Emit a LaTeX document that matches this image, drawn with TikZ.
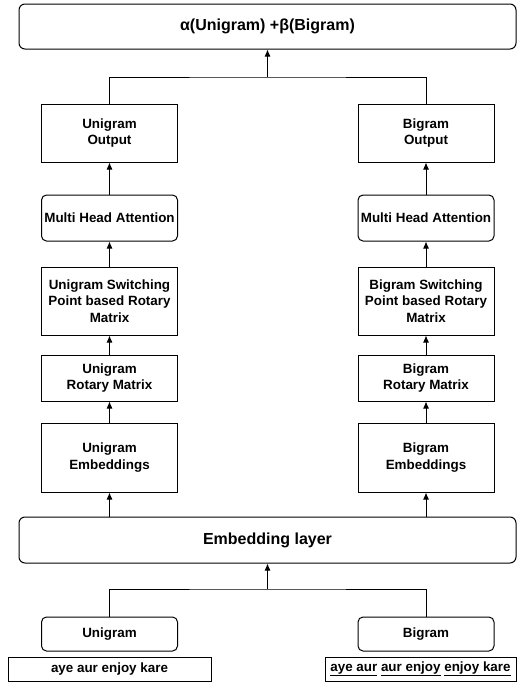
\documentclass[tikz,border=0pt]{standalone}
\usepackage{fontspec}
\setmainfont{Liberation Sans}
\usetikzlibrary{arrows.meta,positioning}

\begin{document}
\begin{tikzpicture}[x=1pt, y=-1pt, line width=1pt,
    box/.style = {draw, minimum width=136pt, inner xsep=1pt, inner ysep=0pt, align=center, font=\bfseries\fontsize{13.4}{16.6}\selectfont},
    rbox/.style = {box, rounded corners=5pt},
    wide/.style = {draw, rounded corners=6pt, minimum width=497pt, minimum height=45pt, font=\bfseries\fontsize{16}{19}\selectfont},
    word/.style = {draw, minimum height=24pt, inner xsep=2pt, inner ysep=0pt, font=\bfseries\fontsize{13.4}{16}\selectfont},
    arr/.style = {-{Latex[length=7pt,width=6pt]}}]
    \useasboundingbox (0,0) rectangle (526,683);

    % top and shared layer
    \node[wide] (mix) at (267.5,26.5) {α(Unigram) +β(Bigram)};
    \node[wide, minimum height=46pt] (emb) at (267.5,540) {Embedding layer};

    % unigram side
    \node[box, minimum height=58pt] (uout) at (109.5,133) {Unigram\\Output};
    \node[rbox, minimum height=46pt] (umha) at (109.5,218) {Multi Head Attention};
    \node[box, minimum height=68pt] (usw) at (109.5,301) {Unigram Switching\\Point based Rotary\\Matrix};
    \node[box, minimum height=46pt] (urot) at (109.5,378) {Unigram\\Rotary Matrix};
    \node[box, minimum height=69pt] (uemb) at (109.5,457.5) {Unigram\\Embeddings};
    \node[rbox, minimum height=34pt] (uin) at (109.5,634) {Unigram};
    \node[word, minimum width=203pt] (utok) at (109.5,669) {aye aur enjoy kare};

    % bigram side
    \node[box, minimum height=58pt] (bout) at (426,133) {Bigram\\Output};
    \node[rbox, minimum height=46pt] (bmha) at (426,218) {Multi Head Attention};
    \node[box, minimum height=68pt] (bsw) at (426,301) {Bigram Switching\\Point based Rotary\\Matrix};
    \node[box, minimum height=46pt] (brot) at (426,378) {Bigram\\Rotary Matrix};
    \node[box, minimum height=69pt] (bemb) at (426,457.5) {Bigram\\Embeddings};
    \node[rbox, minimum height=34pt] (bin) at (426,634) {Bigram};
    \node[word, minimum width=191pt] (btok) at (420.5,669) {\underline{aye aur} \underline{aur enjoy} \underline{enjoy kare}};

    \coordinate (jtop) at (267.5,77);
    \coordinate (jbot) at (267.5,589);

    % merge into top
    \draw (uout.north) |- (jtop) -| (bout.north);
    \draw[arr] (jtop) -- (mix);

    % stacks
    \foreach \s in {u,b} {
        \draw[arr] (\s mha) -- (\s out);
        \draw[arr] (\s sw) -- (\s mha);
        \draw[arr] (\s rot) -- (\s sw);
        \draw[arr] (\s emb) -- (\s rot);
        \draw[arr] (emb.north -| \s emb) -- (\s emb);
    }

    % inputs into embedding layer
    \draw (uin.north) |- (jbot) -| (bin.north);
    \draw[arr] (jbot) -- (emb);
\end{tikzpicture}
\end{document}
